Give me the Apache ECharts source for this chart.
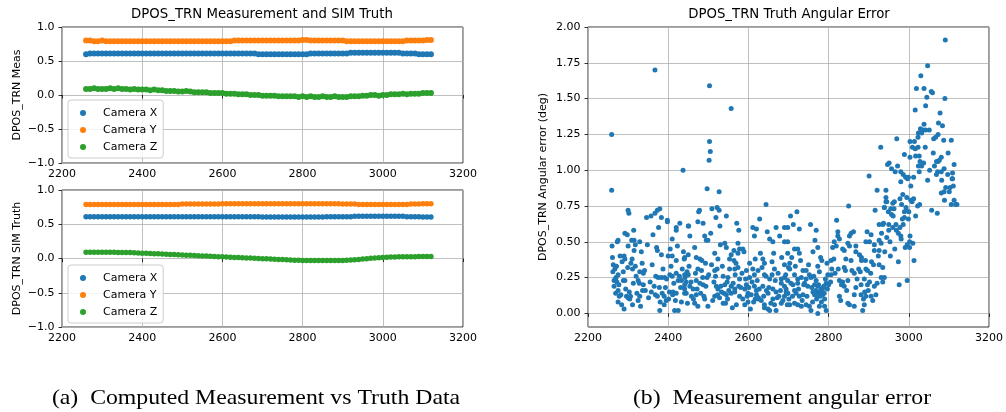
<!DOCTYPE html>
<html><head><meta charset="utf-8">
<script src="https://cdn.jsdelivr.net/npm/echarts@6/dist/echarts.min.js"></script>
<style>html,body{margin:0;padding:0;background:#fff}#c{width:1006px;height:412px}</style>
</head><body><div id="c"></div>
<script>
// ---------- data ----------
const seriesNames = ['Camera X', 'Camera Y', 'Camera Z'];
const xTicks = [2200, 2400, 2600, 2800, 3000, 3200];
const leftYTicks = [-1.0, -0.5, 0.0, 0.5, 1.0];
const rightYTicks = [0.00, 0.25, 0.50, 0.75, 1.00, 1.25, 1.50, 1.75, 2.00];

const timeSteps = [2260,2270,2280,2290,2300,2310,2320,2330,2340,2350,2360,2370,2380,2390,2400,2410,2420,2430,2440,2450,
2460,2470,2480,2490,2500,2510,2520,2530,2540,2550,2560,2570,2580,2590,2600,2610,2620,2630,2640,2650,
2660,2670,2680,2690,2700,2710,2720,2730,2740,2750,2760,2770,2780,2790,2800,2810,2820,2830,2840,2850,
2860,2870,2880,2890,2900,2910,2920,2930,2940,2950,2960,2970,2980,2990,3000,3010,3020,3030,3040,3050,
3060,3070,3080,3090,3100,3110,3120];

const measX = [0.60,0.61,0.61,0.61,0.61,0.61,0.61,0.61,0.61,0.61,0.61,0.61,0.61,0.61,0.61,0.61,0.61,0.61,0.61,0.61,
0.61,0.61,0.61,0.61,0.61,0.61,0.61,0.61,0.61,0.61,0.61,0.61,0.61,0.61,0.61,0.61,0.61,0.61,0.61,0.61,
0.61,0.61,0.61,0.60,0.60,0.60,0.60,0.60,0.60,0.60,0.60,0.60,0.60,0.60,0.60,0.60,0.61,0.61,0.61,0.61,
0.61,0.61,0.61,0.61,0.61,0.61,0.62,0.62,0.62,0.62,0.62,0.62,0.62,0.62,0.62,0.62,0.62,0.62,0.62,0.61,
0.61,0.61,0.61,0.60,0.60,0.60,0.60];
const measY = [0.80,0.80,0.79,0.79,0.80,0.79,0.79,0.79,0.79,0.79,0.79,0.79,0.79,0.79,0.79,0.79,0.79,0.79,0.79,0.79,
0.79,0.79,0.79,0.79,0.79,0.79,0.79,0.79,0.79,0.79,0.79,0.79,0.79,0.79,0.79,0.79,0.79,0.80,0.80,0.80,
0.80,0.80,0.80,0.80,0.80,0.80,0.80,0.80,0.80,0.80,0.80,0.80,0.80,0.80,0.81,0.81,0.80,0.80,0.80,0.80,
0.80,0.80,0.80,0.80,0.80,0.79,0.79,0.79,0.79,0.79,0.79,0.79,0.79,0.79,0.79,0.79,0.79,0.79,0.79,0.79,
0.80,0.80,0.80,0.80,0.80,0.81,0.81];
const measZ = [0.09,0.09,0.10,0.09,0.09,0.09,0.10,0.09,0.10,0.09,0.09,0.08,0.09,0.08,0.08,0.08,0.07,0.08,0.07,0.07,
0.06,0.06,0.06,0.05,0.05,0.06,0.05,0.04,0.04,0.04,0.04,0.03,0.03,0.03,0.03,0.02,0.02,0.02,0.01,0.01,
0.01,0.00,0.00,0.00,-0.01,-0.01,-0.01,-0.01,-0.02,-0.02,-0.02,-0.02,-0.02,-0.03,-0.02,-0.03,-0.02,-0.03,-0.03,-0.02,
-0.03,-0.03,-0.02,-0.03,-0.03,-0.03,-0.02,-0.02,-0.02,-0.01,-0.01,0.00,0.00,-0.01,0.00,0.00,0.01,0.01,0.01,0.02,
0.01,0.02,0.02,0.02,0.03,0.03,0.03];

const truthX = [0.61,0.61,0.61,0.61,0.61,0.61,0.61,0.61,0.61,0.61,0.61,0.61,0.61,0.61,0.61,0.61,0.61,0.61,0.61,0.61,
0.61,0.61,0.61,0.61,0.61,0.61,0.61,0.61,0.61,0.61,0.61,0.61,0.61,0.61,0.61,0.61,0.61,0.61,0.61,0.61,
0.61,0.61,0.61,0.61,0.605,0.605,0.605,0.605,0.605,0.605,0.605,0.605,0.605,0.605,0.605,0.605,0.605,0.605,0.605,0.605,
0.61,0.61,0.61,0.61,0.61,0.61,0.61,0.615,0.615,0.615,0.615,0.615,0.615,0.615,0.615,0.615,0.615,0.615,0.615,0.615,
0.61,0.61,0.61,0.61,0.605,0.605,0.605];
const truthY = [0.79,0.79,0.79,0.79,0.79,0.79,0.79,0.79,0.79,0.79,0.79,0.79,0.79,0.79,0.79,0.79,0.79,0.79,0.79,0.79,
0.79,0.79,0.79,0.79,0.795,0.795,0.795,0.795,0.795,0.795,0.795,0.795,0.795,0.795,0.80,0.80,0.80,0.80,0.80,0.80,
0.80,0.80,0.80,0.80,0.80,0.80,0.80,0.80,0.80,0.80,0.80,0.80,0.80,0.80,0.80,0.80,0.80,0.80,0.80,0.80,
0.80,0.80,0.80,0.80,0.795,0.795,0.795,0.795,0.79,0.79,0.79,0.79,0.79,0.79,0.79,0.79,0.79,0.79,0.79,0.79,
0.79,0.795,0.795,0.795,0.80,0.80,0.80];
const truthZ = [0.090,0.090,0.091,0.090,0.090,0.090,0.090,0.090,0.089,0.089,0.088,0.086,0.083,0.081,0.078,0.076,0.073,0.070,0.068,0.065,
0.062,0.060,0.057,0.054,0.051,0.049,0.046,0.043,0.041,0.038,0.035,0.033,0.030,0.027,0.024,0.022,0.019,0.016,0.014,0.011,
0.008,0.006,0.003,0.000,-0.002,-0.005,-0.008,-0.011,-0.013,-0.016,-0.019,-0.021,-0.024,-0.027,-0.029,-0.030,-0.031,-0.031,-0.031,-0.031,
-0.031,-0.031,-0.030,-0.030,-0.029,-0.026,-0.022,-0.018,-0.013,-0.008,-0.003,0.002,0.007,0.012,0.016,0.019,0.021,0.023,0.024,0.025,
0.026,0.027,0.027,0.028,0.028,0.028,0.028];

// angular error points [time, deg]
const errPoints = [
[2259,1.25],[2259,0.86],[2260,0.47],[2261,0.39],[2263,0.34],[2265,0.19],[2267,0.31],[2269,0.14],[2270,0.25],[2271,0.33],
[2273,0.50],[2275,0.51],[2275,0.27],[2275,0.16],[2275,0.08],[2278,0.12],[2280,0.40],[2265,0.23],[2272,0.22],[2288,0.29],
[2288,0.23],[2290,0.40],[2290,0.03],[2292,0.56],[2292,0.38],[2292,0.23],[2296,0.12],[2298,0.55],[2299,0.32],[2300,0.72],
[2300,0.47],[2300,0.11],[2302,0.70],[2304,0.10],[2306,0.12],[2309,0.51],[2310,0.38],[2311,0.31],[2311,0.06],[2314,0.58],
[2315,0.51],[2315,0.44],[2325,0.23],[2328,0.21],[2329,0.50],[2329,0.29],[2329,0.12],[2325,0.09],[2333,0.43],[2335,0.35],
[2338,0.28],[2338,0.20],[2346,0.67],[2348,0.48],[2357,0.68],[2365,0.19],[2367,1.70],[2367,0.70],[2368,0.13],[2371,0.46],
[2373,0.44],[2373,0.12],[2373,0.72],[2375,0.25],[2376,0.60],[2379,0.73],[2379,0.02],[2380,0.08],[2383,0.67],[2383,0.41],
[2383,0.25],[2385,0.14],[2390,0.12],[2390,0.06],[2391,0.25],[2396,0.24],[2398,0.65],[2398,0.64],[2400,0.40],[2403,0.15],
[2404,0.27],[2410,0.52],[2410,0.40],[2410,0.26],[2411,0.13],[2416,0.02],[2412,0.15],[2420,0.60],[2420,0.58],[2420,0.37],
[2420,0.28],[2420,0.14],[2425,0.02],[2428,0.26],[2429,0.63],[2425,0.23],[2433,0.08],[2433,0.23],[2437,1.00],[2438,0.43],
[2440,0.38],[2442,0.25],[2445,0.22],[2441,0.39],[2441,0.14],[2441,0.17],[2450,0.61],[2282,0.13],[2285,0.36],[2318,0.33],
[2320,0.26],[2343,0.16],[2355,0.22],[2360,0.34],[2395,0.09],[2405,0.45],
[2503,1.59],[2503,1.20],[2505,1.13],[2502,1.07],[2557,1.43],[2497,0.87],[2527,0.85],[2478,0.72],[2476,0.71],[2509,0.73],
[2522,0.74],[2527,0.72],[2545,0.68],[2644,0.76],[2474,0.64],[2487,0.63],[2451,0.61],[2454,0.54],[2519,0.67],[2529,0.61],
[2506,0.56],[2571,0.63],[2576,0.58],[2611,0.60],[2620,0.59],[2628,0.66],[2647,0.57],[2669,0.60],[2690,0.60],[2491,0.54],
[2495,0.51],[2499,0.51],[2615,0.54],[2653,0.52],[2661,0.50],[2678,0.54],[2690,0.50],[2466,0.46],[2530,0.48],[2541,0.49],
[2545,0.46],[2574,0.49],[2516,0.42],[2564,0.44],[2578,0.45],[2586,0.45],[2589,0.43],[2557,0.41],[2553,0.38],[2564,0.37],
[2574,0.42],[2450,0.41],[2470,0.39],[2479,0.38],[2484,0.37],[2524,0.38],[2617,0.38],[2636,0.38],[2640,0.35],[2663,0.42],
[2659,0.36],[2603,0.35],[2611,0.31],[2683,0.39],[2690,0.34],[2698,0.42],[2700,0.32],[2474,0.31],[2483,0.30],[2493,0.35],
[2508,0.34],[2516,0.30],[2522,0.31],[2553,0.31],[2566,0.31],[2574,0.32],[2595,0.30],[2624,0.30],[2634,0.32],[2640,0.27],
[2665,0.31],[2441,0.27],[2450,0.27],[2470,0.23],[2497,0.25],[2518,0.26],[2537,0.26],[2549,0.25],[2567,0.27],[2578,0.24],
[2603,0.25],[2615,0.27],[2644,0.26],[2653,0.24],[2659,0.27],[2682,0.24],[2441,0.20],[2454,0.19],[2462,0.17],[2479,0.21],
[2487,0.20],[2520,0.19],[2524,0.17],[2541,0.20],[2557,0.19],[2566,0.17],[2576,0.19],[2591,0.17],[2595,0.20],[2615,0.19],
[2620,0.16],[2636,0.19],[2661,0.17],[2669,0.15],[2682,0.21],[2690,0.19],[2694,0.15],[2445,0.14],[2458,0.12],[2470,0.13],
[2481,0.14],[2491,0.10],[2516,0.12],[2523,0.13],[2539,0.14],[2545,0.13],[2557,0.14],[2566,0.15],[2578,0.12],[2599,0.14],
[2607,0.13],[2620,0.13],[2625,0.11],[2632,0.09],[2649,0.14],[2661,0.10],[2676,0.12],[2690,0.12],[2698,0.14],[2448,0.07],
[2466,0.07],[2474,0.05],[2499,0.05],[2537,0.07],[2543,0.07],[2570,0.06],[2591,0.06],[2599,0.08],[2617,0.10],[2624,0.10],
[2640,0.06],[2649,0.03],[2665,0.06],[2682,0.07],[2697,0.06],[2653,0.02],[2669,0.02],[2528,0.11],[2533,0.15],[2548,0.10],
[2560,0.04],[2586,0.10],[2605,0.03],[2640,0.04],[2645,0.16],
[2901,0.96],[2947,1.04],[2921,0.86],[2943,0.81],[2945,0.78],[2850,0.75],[2916,0.72],[2939,0.74],[2949,0.71],[2721,0.71],
[2705,0.68],[2698,0.60],[2712,0.62],[2727,0.59],[2755,0.62],[2769,0.58],[2820,0.65],[2926,0.62],[2935,0.62],[2823,0.57],
[2823,0.54],[2827,0.52],[2852,0.54],[2856,0.56],[2862,0.57],[2896,0.57],[2906,0.55],[2698,0.50],[2766,0.51],[2773,0.46],
[2814,0.50],[2819,0.47],[2848,0.49],[2852,0.47],[2868,0.47],[2893,0.50],[2902,0.50],[2914,0.48],[2926,0.51],[2931,0.49],
[2715,0.45],[2723,0.45],[2727,0.42],[2761,0.43],[2835,0.45],[2839,0.44],[2868,0.43],[2877,0.41],[2882,0.39],[2914,0.44],
[2926,0.44],[2708,0.39],[2703,0.35],[2703,0.31],[2730,0.37],[2780,0.39],[2783,0.37],[2796,0.35],[2806,0.37],[2813,0.38],
[2810,0.46],[2843,0.38],[2856,0.37],[2882,0.37],[2892,0.37],[2907,0.36],[2926,0.34],[2935,0.32],[2736,0.30],[2744,0.30],
[2752,0.27],[2715,0.27],[2723,0.24],[2773,0.33],[2777,0.29],[2824,0.31],[2839,0.32],[2842,0.30],[2864,0.28],[2893,0.31],
[2897,0.30],[2690,0.25],[2698,0.23],[2732,0.25],[2744,0.24],[2756,0.25],[2769,0.23],[2798,0.27],[2806,0.27],[2827,0.23],
[2835,0.22],[2848,0.23],[2889,0.24],[2902,0.22],[2931,0.25],[2935,0.22],[2694,0.17],[2711,0.20],[2723,0.21],[2715,0.16],
[2740,0.21],[2748,0.19],[2765,0.20],[2773,0.19],[2781,0.17],[2788,0.19],[2794,0.21],[2839,0.19],[2868,0.18],[2881,0.20],
[2897,0.20],[2914,0.19],[2921,0.21],[2698,0.14],[2719,0.14],[2727,0.12],[2736,0.13],[2761,0.15],[2765,0.13],[2773,0.14],
[2781,0.14],[2785,0.13],[2790,0.10],[2827,0.12],[2864,0.13],[2881,0.13],[2893,0.12],[2906,0.12],[2918,0.13],[2703,0.06],
[2715,0.07],[2723,0.06],[2732,0.05],[2744,0.06],[2752,0.05],[2756,0.02],[2773,0.00],[2777,0.05],[2790,0.05],[2794,0.02],
[2848,0.07],[2852,0.06],[2864,0.05],[2889,0.06],[2885,0.02],[2776,0.15],[2779,0.12],[2784,0.16],[2787,0.18],[2770,0.10],
[2768,0.16],[2760,0.08],[2792,0.24],[2800,0.20],[2805,0.22],[2830,0.09],[2875,0.31],[2910,0.09],[2890,0.15],
[3091,1.91],[3047,1.73],[3030,1.66],[3019,1.57],[3038,1.57],[3056,1.55],[3059,1.54],[3045,1.51],[3090,1.50],[3042,1.45],
[3016,1.42],[3078,1.40],[3074,1.33],[3084,1.31],[3038,1.32],[3029,1.29],[3036,1.28],[3042,1.28],[3051,1.28],[3024,1.26],
[3032,1.26],[3073,1.25],[2970,1.22],[3003,1.20],[3014,1.20],[3023,1.23],[3062,1.22],[3067,1.23],[3087,1.21],[3106,1.21],
[3009,1.16],[3016,1.15],[3023,1.16],[3041,1.16],[3061,1.12],[3098,1.12],[2930,1.16],[2951,1.05],[2989,1.11],[3003,1.09],
[3017,1.10],[3026,1.10],[3028,1.06],[3081,1.09],[3076,1.07],[3069,1.06],[3073,1.06],[3113,1.04],[2957,1.01],[2972,1.03],
[2966,0.99],[3037,1.05],[3032,1.03],[3024,1.03],[3026,0.99],[3088,1.01],[3081,0.99],[3072,0.99],[3069,0.97],[2980,0.99],
[2986,0.97],[2992,0.95],[2997,0.94],[2999,0.95],[3109,0.98],[3108,0.94],[3109,0.94],[3047,0.93],[3082,0.93],[2980,0.92],
[3005,0.89],[3103,0.88],[3111,0.89],[3092,0.88],[3101,0.85],[3088,0.85],[3081,0.84],[2943,0.86],[3089,0.79],[3113,0.79],
[3117,0.76],[3106,0.76],[3120,0.76],[2995,0.81],[3005,0.79],[3012,0.80],[3008,0.78],[2943,0.78],[2960,0.77],[2964,0.78],
[2978,0.80],[2982,0.76],[3022,0.75],[3027,0.76],[3057,0.72],[3071,0.70],[2939,0.74],[2955,0.73],[2963,0.73],[2993,0.74],
[2994,0.72],[2989,0.71],[2989,0.67],[2984,0.66],[2999,0.66],[2957,0.69],[2961,0.68],[3017,0.68],[2950,0.62],[2960,0.60],
[2968,0.62],[2978,0.60],[2986,0.62],[2950,0.58],[2969,0.58],[2974,0.56],[2980,0.54],[2981,0.52],[3003,0.54],[3002,0.50],
[3010,0.49],[2953,0.50],[2996,0.48],[2991,0.46],[3002,0.46],[2940,0.43],[2954,0.40],[3013,0.37],[2974,0.36],[2939,0.25],
[2976,0.20],[2996,0.23],[2945,0.53],[2965,0.45],[2985,0.83],[3000,0.71],[3012,0.95],[3052,1.00],[3064,1.03],[3097,0.97],
[2262,0.29],[2268,0.24],[2277,0.20],[2284,0.06],[2294,0.17],[2303,0.15],[2307,0.35],[2313,0.21],[2318,0.48],[2322,0.14],
[2331,0.05],[2336,0.16],[2341,0.30],[2351,0.11],[2358,0.15],[2362,0.55],[2369,0.26],[2378,0.18],[2387,0.31],[2393,0.18],
[2401,0.10],[2407,0.33],[2414,0.21],[2418,0.09],[2423,0.47],[2431,0.18],[2435,0.31],[2447,0.29],[2452,0.33],[2457,0.22],
[2463,0.10],[2468,0.28],[2472,0.17],[2486,0.25],[2489,0.12],[2494,0.19],[2501,0.27],[2511,0.09],[2514,0.22],[2531,0.19],
[2535,0.33],[2547,0.22],[2551,0.16],[2562,0.21],[2569,0.35],[2581,0.18],[2584,0.28],[2593,0.24],[2597,0.12],[2601,0.18],
[2609,0.22],[2613,0.08],[2622,0.23],[2627,0.17],[2630,0.42],[2638,0.12],[2651,0.18],[2656,0.07],[2667,0.23],[2672,0.11],
[2674,0.28],[2680,0.16],[2686,0.09],[2693,0.27],[2701,0.10],[2706,0.21],[2710,0.12],[2717,0.33],[2725,0.17],[2734,0.09],
[2738,0.20],[2746,0.12],[2750,0.34],[2758,0.18],[2763,0.26],[2771,0.13],[2775,0.20],[2782,0.08],[2789,0.14],[2797,0.17],
[2808,0.31],[2816,0.28],[2832,0.20],[2845,0.16],[2858,0.30],[2871,0.24],[2879,0.29],[2887,0.10],[2899,0.16],[2905,0.28],
[2912,0.34],[2924,0.40],[2932,0.56],[2937,0.63]
];

// ---------- chart ----------
const FONT = 'DejaVu Sans';
const C = ['#1f77b4', '#ff7f0e', '#2ca02c'];
const minus = s => s.replace('-', '\u2212');
const GRID_LINE = {lineStyle: {color: '#b0b0b0', width: 0.8}};
const TICK = {length: 3.5, lineStyle: {color: '#000', width: 0.8}};

function xAxis(gi) {
  return {type: 'value', gridIndex: gi, min: xTicks[0], max: xTicks[xTicks.length - 1], interval: 200,
    axisLine: {show: false}, axisTick: TICK, splitLine: GRID_LINE,
    axisLabel: {fontFamily: FONT, fontSize: 11, color: '#000', margin: 6, formatter: v => String(v)}};
}
function leftY(gi, name) {
  return {type: 'value', gridIndex: gi, min: leftYTicks[0], max: leftYTicks[leftYTicks.length - 1], interval: 0.5,
    axisLine: {show: false}, axisTick: TICK, splitLine: GRID_LINE,
    name: name, nameLocation: 'middle', nameRotate: 90, nameGap: 39,
    nameTextStyle: {fontFamily: FONT, fontSize: 11, color: '#000'},
    axisLabel: {fontFamily: FONT, fontSize: 11, color: '#000', margin: 7.5, formatter: v => minus(v.toFixed(1))}};
}
const rightY = {type: 'value', gridIndex: 2, min: -0.095, max: 2.0,
  axisLine: {show: false},
  axisTick: Object.assign({customValues: rightYTicks}, TICK),
  splitLine: GRID_LINE,
  name: 'DPOS_TRN Angular error (deg)', nameLocation: 'middle', nameRotate: 90, nameGap: 39,
  nameTextStyle: {fontFamily: FONT, fontSize: 11, color: '#000'},
  axisLabel: {customValues: rightYTicks, fontFamily: FONT, fontSize: 11, color: '#000', margin: 7.5, formatter: v => v.toFixed(2)}};

function legend(top) {
  return {left: 68, top: top, orient: 'vertical', data: seriesNames, icon: 'circle',
    itemWidth: 24, itemHeight: 6, itemGap: 5, padding: [7, 6, 5, 12],
    borderColor: '#cccccc', borderWidth: 1, borderRadius: 3, backgroundColor: 'rgba(255,255,255,0.8)',
    selectedMode: false,
    textStyle: {fontFamily: FONT, fontSize: 11, color: '#000', lineHeight: 12, padding: [0, 0, 0, 3]}};
}

const series = [];
const measSets = [measX, measY, measZ];
const truthSets = [truthX, truthY, truthZ];
[measSets, truthSets].forEach((sets, gi) => {
  sets.forEach((vals, k) => {
    series.push({type: 'scatter', name: seriesNames[k], xAxisIndex: gi, yAxisIndex: gi,
      symbolSize: gi === 0 ? 6 : 5.5, itemStyle: {color: C[k], opacity: 1},
      data: timeSteps.map((t, i) => [t, vals[i]])});
  });
});
series.push({type: 'scatter', name: 'err', xAxisIndex: 2, yAxisIndex: 2, symbolSize: 5,
  itemStyle: {color: C[0], opacity: 1}, data: errPoints});

function txt(x, y, s, font, sx) {
  return {type: 'text', x: x, y: y, scaleX: sx || 1, silent: true,
    style: {text: s, font: font, fill: '#000', align: 'center', verticalAlign: 'middle',
      textAlign: 'center', textVerticalAlign: 'middle'}};
}

const option = {
  animation: false,
  backgroundColor: '#fff',
  grid: [
    {left: 62, top: 27, width: 401, height: 136, show: true, borderColor: '#000', borderWidth: 0.8, containLabel: false},
    {left: 62, top: 190, width: 401, height: 137, show: true, borderColor: '#000', borderWidth: 0.8, containLabel: false},
    {left: 588, top: 27, width: 402, height: 300, show: true, borderColor: '#000', borderWidth: 0.8, containLabel: false}
  ],
  xAxis: [xAxis(0), xAxis(1), xAxis(2)],
  yAxis: [leftY(0, 'DPOS_TRN Meas'), leftY(1, 'DPOS_TRN SIM Truth'), rightY],
  legend: [legend(100), legend(265)],
  series: series,
  graphic: [
    txt(262, 15, 'DPOS_TRN Measurement and SIM Truth', '13.3px "DejaVu Sans"'),
    txt(789, 15, 'DPOS_TRN Truth Angular Error', '13.3px "DejaVu Sans"'),
    txt(256, 398, '(a)  Computed Measurement vs Truth Data', '22px "Liberation Serif"', 1.08),
    txt(782, 398, '(b)  Measurement angular error', '22px "Liberation Serif"', 1.08)
  ]
};
const chart = echarts.init(document.getElementById('c'));
chart.setOption(option);
</script>
</body></html>
